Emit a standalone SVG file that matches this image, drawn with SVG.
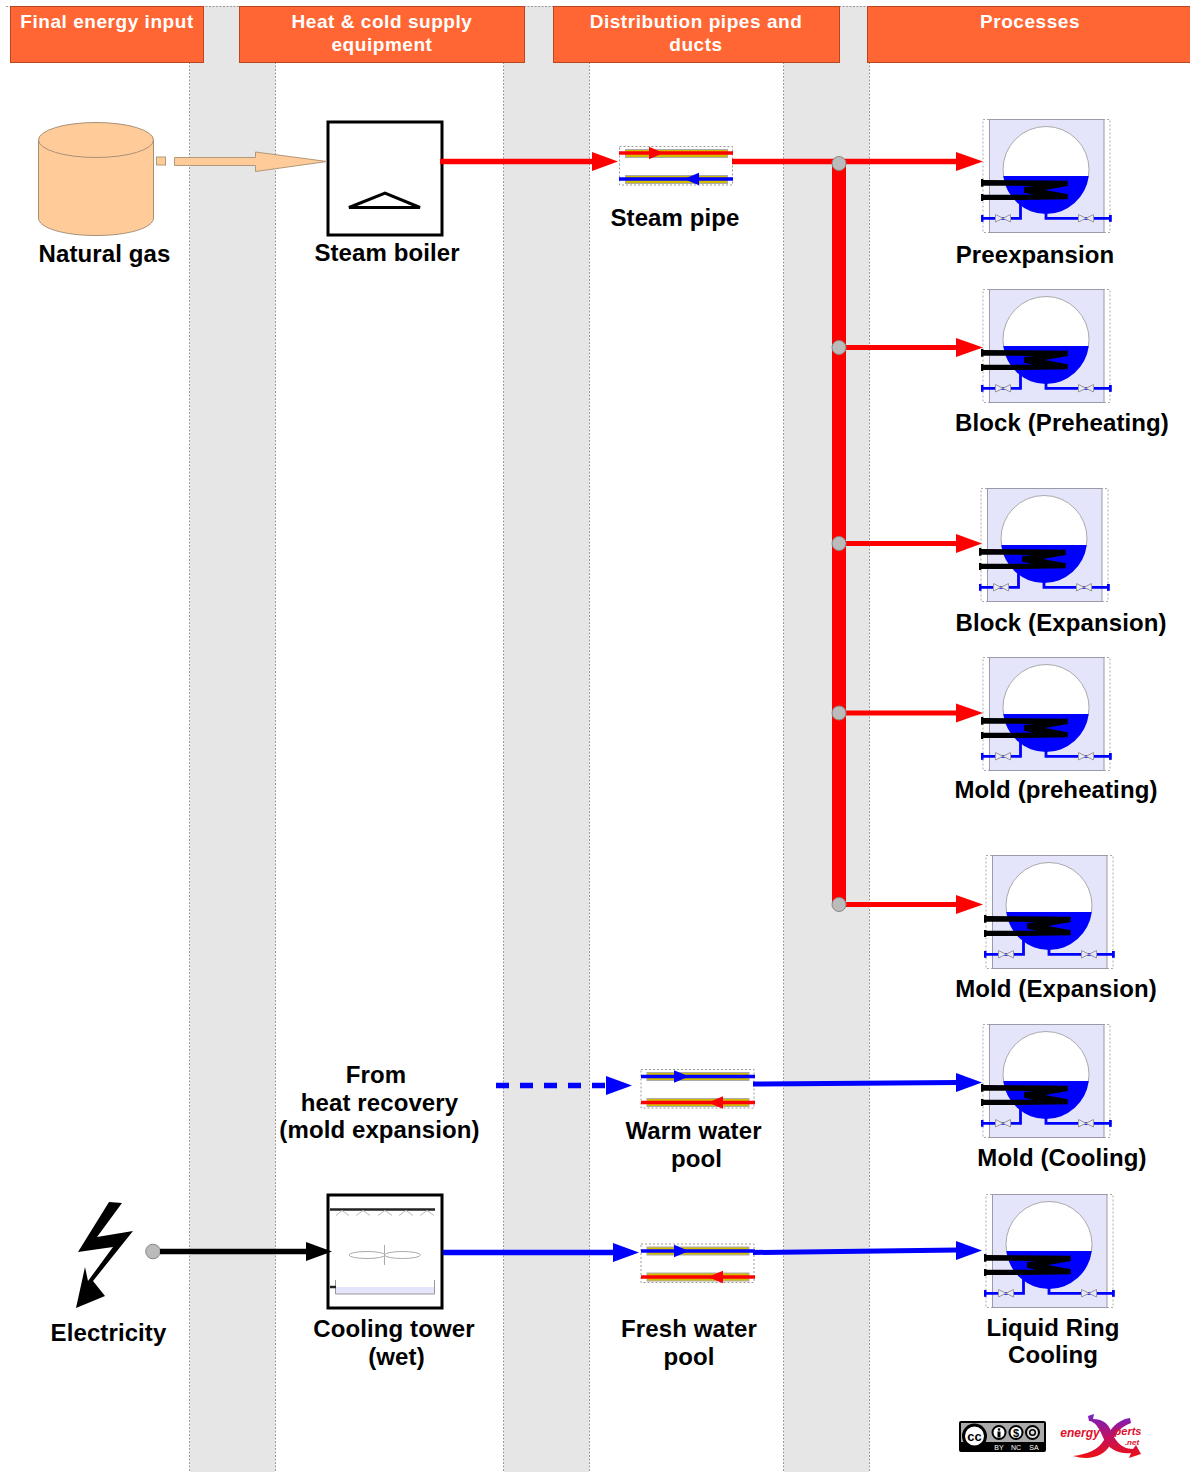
<svg xmlns="http://www.w3.org/2000/svg" width="1190" height="1472" viewBox="0 0 1190 1472">
<style>
text{font-family:"Liberation Sans",Arial,sans-serif;font-weight:bold;text-anchor:middle}
.h{fill:#fff;font-size:19px;letter-spacing:.55px}
.l{fill:#000;font-size:24px;letter-spacing:.1px}
.band{fill:#e6e6e6}
.edge{stroke:#999;stroke-width:1;stroke-dasharray:2 1.500;fill:none}
.head{fill:#ff6633;stroke:#b8461f;stroke-width:1}
.red{stroke:#f00;fill:none}
.blue{stroke:#00f;fill:none}
.dot{fill:#bbb;stroke:#888;stroke-width:1}
.box{fill:#fff;stroke:#000;stroke-width:3}
.valve{fill:#e8e8f8;stroke:#999;stroke-width:1}
.tiny{font-size:7px;fill:#fff;font-weight:normal}
.ex{fill:#e0102a;font-style:italic}
</style>
<defs>
<linearGradient id="swoosh" gradientUnits="userSpaceOnUse" x1="0" y1="1416" x2="0" y2="1458">
<stop offset="0" stop-color="#7a1fc0"/><stop offset=".5" stop-color="#c01060"/><stop offset="1" stop-color="#f01010"/>
</linearGradient>
<g id="proc">
<rect x="0" y="0" width="127" height="113" fill="none" stroke="#aaa" stroke-dasharray="2 2"/>
<rect x="6.500" y="0" width="114.500" height="113" fill="#e4e4fb" stroke="#9a9aa8"/>
<circle cx="63" cy="50" r="43" fill="#fff" stroke="#aaa"/>
<path d="M20.300 56.500H105.700A43 43 0 0 1 20.300 56.500Z" fill="#00f"/>
<path d="M37.500 75V98.800H0" class="blue" stroke-width="2.800"/>
<path d="M63 90V98.800H127" class="blue" stroke-width="2.800"/>
<rect x="-2" y="95.500" width="2.500" height="6.800" fill="#00f"/><rect x="126" y="95.500" width="2.800" height="6.800" fill="#00f"/>
<path d="M12.500 95L27.500 102.500V95L12.500 102.500Z" class="valve"/>
<path d="M95.500 95L110.500 102.500V95L95.500 102.500Z" class="valve"/>
<path d="M-2 59.500H.3V60.500L84.700 61.200V66.500L62 70.500L84.700 74.800V79.800L37 80.500H.3V81.500H-2V74.500H.3V75.200H50.300L41 73.200V67.800L50.300 67.200L37 66.200H.3V67.200H-2Z" fill="#000"/>
</g>
<g id="pipe-s">
<rect x="0" y="0" width="113" height="38.500" fill="none" stroke="#999" stroke-dasharray="2 2"/>
<rect x="6" y="3" width="102" height="8" fill="#d2bc00" stroke="#aaa"/>
<rect x="6" y="29" width="102" height="8" fill="#d2bc00" stroke="#aaa"/>
</g>
</defs>

<g id="bands">
<rect class="band" x="190" y="6" width="85" height="1466"/>
<rect class="band" x="504" y="6" width="85" height="1466"/>
<rect class="band" x="784" y="6" width="85" height="1466"/>
<path class="edge" d="M189.500 6V1472M275.500 6V1472M503.500 6V1472M589.500 6V1472M783.500 6V1472M869.500 6V1472M6 6.500H1190"/>
</g>

<g id="headers">
<g id="h1"><rect class="head" x="10.500" y="6.500" width="193" height="56"/><text class="h" x="107" y="28">Final energy input</text></g>
<g id="h2"><rect class="head" x="239.500" y="6.500" width="285" height="56"/><text class="h" x="382" y="28">Heat &amp; cold supply</text><text class="h" x="382" y="51">equipment</text></g>
<g id="h3"><rect class="head" x="553.500" y="6.500" width="286" height="56"/><text class="h" x="696" y="28">Distribution pipes and</text><text class="h" x="696" y="51">ducts</text></g>
<g id="h4"><rect class="head" x="867.500" y="6.500" width="323" height="56"/><text class="h" x="1030" y="28">Processes</text></g>
</g>

<g id="natural-gas">
<path d="M38.500 140V218C38.500 228 64 235.500 96 235.500S153.500 228 153.500 218V140Z" fill="#ffcc99" stroke="#a89078"/>
<ellipse cx="96" cy="140" rx="57.500" ry="17.500" fill="#ffcc99" stroke="#a89078"/>
<text class="l" x="104.500" y="262">Natural gas</text>
</g>

<g id="steam-boiler">
<rect class="box" x="328" y="122" width="114" height="113"/>
<path d="M349 207.500H420L385 193Z" fill="none" stroke="#000" stroke-width="3"/>
<text class="l" x="387" y="261">Steam boiler</text>
</g>

<g id="steam-pipe">
<use href="#pipe-s" x="619.500" y="146.500"/>
<path class="red" stroke-width="3.500" d="M619 153H733"/><path d="M649 146.800L663.500 153L649 159.200Z" fill="#f00"/>
<path class="blue" stroke-width="3.500" d="M619 179H733"/><path d="M699 172.800L684 179L699 185.200Z" fill="#00f"/>
<text class="l" x="675" y="226">Steam pipe</text>
</g>

<g id="preexpansion"><use href="#proc" x="983" y="119.500"/><text class="l" x="1035" y="263">Preexpansion</text></g>
<g id="block-preheating"><use href="#proc" x="983" y="289.500"/><text class="l" x="1062" y="431">Block (Preheating)</text></g>
<g id="block-expansion"><use href="#proc" x="981" y="488.500"/><text class="l" x="1061" y="631">Block (Expansion)</text></g>
<g id="mold-preheating"><use href="#proc" x="983" y="657.500"/><text class="l" x="1056" y="798">Mold (preheating)</text></g>
<g id="mold-expansion"><use href="#proc" x="986" y="855.500"/><text class="l" x="1056" y="997">Mold (Expansion)</text></g>
<g id="mold-cooling"><use href="#proc" x="983" y="1024.500"/><text class="l" x="1062" y="1166">Mold (Cooling)</text></g>
<g id="liquid-ring"><use href="#proc" x="986" y="1194.500"/><text class="l" x="1053" y="1336">Liquid Ring</text><text class="l" x="1053" y="1363">Cooling</text></g>

<g id="heat-recovery">
<text class="l" x="376" y="1083">From</text><text class="l" x="379.500" y="1111">heat recovery</text><text class="l" x="379.500" y="1138">(mold expansion)</text>
</g>

<g id="warm-water">
<use href="#pipe-s" x="641" y="1069.500"/>
<path class="blue" stroke-width="3.500" d="M641 1076.500H755"/><path d="M674 1070.300L689 1076.500L674 1082.700Z" fill="#00f"/>
<path class="red" stroke-width="3.500" d="M641 1102.500H755"/><path d="M723 1096.300L708 1102.500L723 1108.700Z" fill="#f00"/>
<text class="l" x="693.500" y="1139">Warm water</text><text class="l" x="696.500" y="1167">pool</text>
</g>

<g id="fresh-water">
<use href="#pipe-s" x="641" y="1244"/>
<path class="blue" stroke-width="3.500" d="M641 1251H755"/><path d="M674 1244.800L689 1251L674 1257.200Z" fill="#00f"/>
<path class="red" stroke-width="3.500" d="M641 1277H755"/><path d="M723 1270.800L708 1277L723 1283.200Z" fill="#f00"/>
<text class="l" x="689" y="1337">Fresh water</text><text class="l" x="689" y="1365">pool</text>
</g>

<g id="cooling-tower">
<rect class="box" x="328" y="1195" width="114" height="113"/>
<path d="M330 1209.500H435" stroke="#222" stroke-width="2.500" fill="none"/>
<path d="M336 1215.500L342 1210.500L349 1215.500M356 1215.500L363 1210.500L370 1215.500M378 1215.500L385 1210.500L392 1215.500M399 1215.500L406 1210.500L413 1215.500M420 1215.500L427 1210.500L434 1215.500" fill="none" stroke="#bbb"/>
<ellipse cx="367" cy="1255" rx="18" ry="3.500" fill="none" stroke="#aaa"/><ellipse cx="402.500" cy="1255" rx="18" ry="3.500" fill="none" stroke="#aaa"/>
<path d="M384.500 1245V1265" stroke="#aaa" fill="none"/>
<rect x="336" y="1287" width="98" height="7" fill="#e4e4fb"/>
<path d="M335.500 1280V1294H434.500V1280" fill="none" stroke="#999"/>
<path d="M330 1287H336" stroke="#222" stroke-width="2.500" fill="none"/>
<text class="l" x="394" y="1337">Cooling tower</text><text class="l" x="396.500" y="1365">(wet)</text>
</g>

<g id="electricity">
<path d="M109 1202L122 1203L97 1237L133 1231L93 1281L105 1296L76 1308L85 1267L88 1281L113 1247L78 1252Z" fill="#000"/>
<text class="l" x="108.500" y="1341">Electricity</text>
</g>

<g id="connectors">
<rect x="156.500" y="157" width="9" height="8" fill="#ffcc99" stroke="#b09878"/>
<path d="M174.500 157.500H255.500V152L327 161.500L255.500 171.500V165.500H174.500Z" fill="#ffcc99" stroke="#b09878"/>
<path class="red" stroke-width="5.500" d="M440 161.500H594"/><path d="M592 152L618 161.500L592 171Z" fill="#f00"/>
<path class="red" stroke-width="5.500" d="M732 161.500H958"/><path d="M956 152L983 161.500L956 171Z" fill="#f00"/>
<path class="red" stroke-width="14" d="M839 163V904"/>
<path class="red" stroke-width="5" d="M839 347.500H958"/><path d="M956 338L983 347.500L956 357Z" fill="#f00"/>
<path class="red" stroke-width="5" d="M839 543.500H958"/><path d="M956 534L982 543.500L956 553Z" fill="#f00"/>
<path class="red" stroke-width="5" d="M839 713H958"/><path d="M956 703.500L983 713L956 722.500Z" fill="#f00"/>
<path class="red" stroke-width="5" d="M839 904.500H958"/><path d="M956 895L983 904.500L956 914Z" fill="#f00"/>
<circle class="dot" cx="839" cy="163.500" r="7"/><circle class="dot" cx="839" cy="347.500" r="7"/><circle class="dot" cx="839" cy="543.500" r="7"/><circle class="dot" cx="839" cy="713" r="7"/><circle class="dot" cx="839" cy="904.500" r="7"/>
<path class="blue" stroke-width="5.500" stroke-dasharray="13 11" d="M496 1085.500H606"/><path d="M606 1076L632 1085.500L606 1095Z" fill="#00f"/>
<path class="blue" stroke-width="5" d="M753 1084L958 1082.500"/><path d="M956 1073L982 1082.500L956 1092Z" fill="#00f"/>
<circle class="dot" cx="153" cy="1251.500" r="7.300"/>
<path stroke="#000" fill="none" stroke-width="5.500" d="M160 1251.500H308"/><path d="M306 1242L332 1251.500L306 1261Z" fill="#000"/>
<path class="blue" stroke-width="5.500" d="M443 1252.500H615"/><path d="M613 1243L639 1252.500L613 1262Z" fill="#00f"/>
<path class="blue" stroke-width="5" d="M753 1252.500L958 1250"/><path d="M956 1241L982 1250.500L956 1260Z" fill="#00f"/>
</g>

<g id="logos">
<rect x="959" y="1421" width="87" height="31" rx="2" fill="#000"/>
<rect x="961" y="1423" width="83" height="19" fill="#aaa"/>
<circle cx="974.500" cy="1436" r="11" fill="#fff" stroke="#000" stroke-width="3"/>
<text x="974.500" y="1440.500" style="font-size:13px">cc</text>
<circle cx="999" cy="1432.500" r="6.500" fill="#fff" stroke="#000" stroke-width="2"/>
<circle cx="999" cy="1429.500" r="1.300" fill="#000"/><rect x="997.500" y="1431.500" width="3" height="6" fill="#000"/>
<circle cx="1016" cy="1432.500" r="6.500" fill="#fff" stroke="#000" stroke-width="2"/>
<text x="1016" y="1436.500" style="font-size:11px">$</text>
<circle cx="1032.500" cy="1432.500" r="6.500" fill="#ddd" stroke="#000" stroke-width="2"/>
<circle cx="1032.500" cy="1432.500" r="2.800" fill="none" stroke="#000" stroke-width="1.500"/>
<text class="tiny" x="999" y="1450">BY</text>
<text class="tiny" x="1016" y="1450">NC</text>
<text class="tiny" x="1034" y="1450">SA</text>
<path d="M1130 1418C1116 1420 1110 1430 1104 1440C1098 1450 1088 1454 1073 1456C1090 1461 1104 1456 1110 1445C1114 1436 1118 1428 1131 1423Z" fill="url(#swoosh)"/>
<path d="M1088 1416L1089 1421C1098 1422 1101 1434 1106 1443C1112 1452 1124 1454 1131 1453L1129 1458L1141 1454L1136 1445L1133 1449C1120 1449 1114 1438 1111 1431C1108 1423 1102 1419 1093 1419L1094 1414Z" fill="url(#swoosh)"/>
<text class="ex" x="1080" y="1436.500" style="font-size:12px">energy</text>
<text class="ex" x="1128" y="1434.500" style="font-size:11px">perts</text>
<text class="ex" x="1132" y="1444.500" style="font-size:8px">.net</text>
</g>
</svg>
